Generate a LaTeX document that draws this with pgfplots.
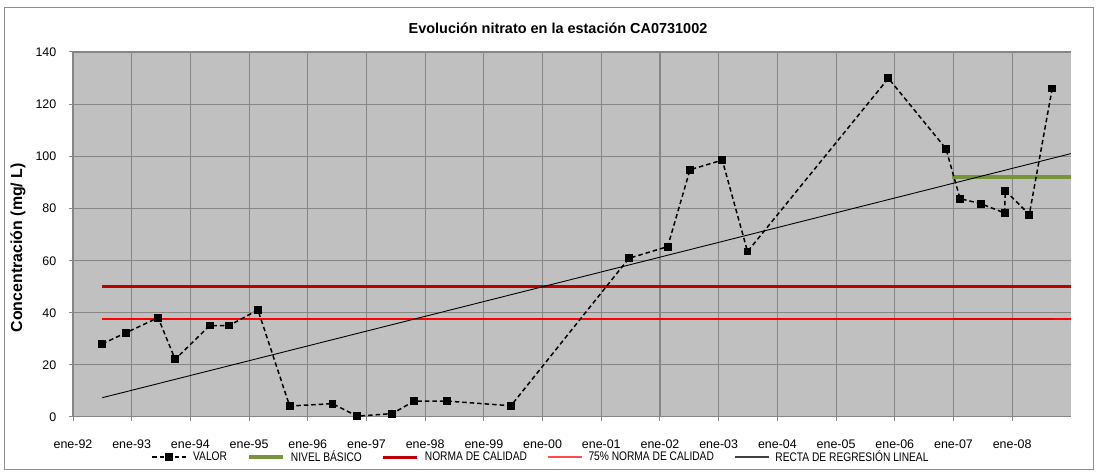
\documentclass[border=0pt]{standalone}
\usepackage{fontspec}
\setmainfont{Liberation Sans}
\newfontfamily\narrowfont[FakeStretch=0.82]{Liberation Sans}
\usepackage{pgfplots}
\pgfplotsset{compat=1.18}
\definecolor{plotbg}{RGB}{192,192,192}
\definecolor{gridc}{RGB}{134,134,134}
\definecolor{normared}{RGB}{192,0,0}
\definecolor{basicgreen}{RGB}{119,147,60}
\begin{document}
\begin{tikzpicture}[x=1bp,y=1bp]
\begin{axis}[
  at={(0,0)}, anchor=south west,
  scale only axis,
  width=998bp, height=364.7bp,
  xmin=1992, xmax=2009, ymin=0, ymax=140,
  axis background/.style={fill=plotbg},
  axis x line*=bottom, axis y line*=left,
  axis line style={gridc, line width=1.3bp},
  xtick={1992,...,2008},
  xticklabels={ene-92,ene-93,ene-94,ene-95,ene-96,ene-97,ene-98,ene-99,ene-00,ene-01,ene-02,ene-03,ene-04,ene-05,ene-06,ene-07,ene-08},
  minor x tick num=1,
  ytick={0,20,...,140},
  grid=both,
  major grid style={gridc, line width=1.1bp},
  minor grid style={gridc, line width=1.1bp},
  tick align=outside,
  major tick length=4.5bp, minor tick length=0pt,
  tick style={gridc, line width=1bp},
  x axis line style={-}, y axis line style={-},
  ticklabel style={font=\fontsize{12.5}{15}\selectfont},
  xticklabel style={anchor=base, inner sep=0pt, yshift=-27.3bp},
  yticklabel style={anchor=base east, inner sep=0pt, xshift=-12bp, yshift=-4.7bp},
  /pgf/number format/assume math mode=true,
  clip=true,
  legend columns=5,
  legend style={at={(axis description cs:0.469,-0.1105)}, anchor=center,
    draw=none, fill=none, inner sep=0pt,
    font=\narrowfont\fontsize{12.5}{14}\selectfont,
    /tikz/every odd column/.append style={column sep=4bp},
    /tikz/every even column/.append style={column sep=18bp}},
  legend image code/.code={\draw[mark repeat=2,mark phase=2,#1] plot coordinates {(0bp,0bp) (17bp,0bp) (34bp,0bp)};},
]
% legend entries
\addlegendimage{black, line width=1.5bp, dash pattern=on 4.5bp off 3bp, mark=square*, mark size=3.2bp, mark options={solid}}
\addlegendentry{VALOR}
\addlegendimage{basicgreen, line width=4bp}
\addlegendentry{NIVEL BÁSICO}
\addlegendimage{normared, line width=3bp}
\addlegendentry{NORMA DE CALIDAD}
\addlegendimage{red!70, line width=1.5bp}
\addlegendentry{75\% NORMA DE CALIDAD}
\addlegendimage{black!75, line width=1.5bp}
\addlegendentry{RECTA DE REGRESIÓN LINEAL}

% norma de calidad
\addplot[forget plot, normared, line width=3bp] coordinates {(1992.5,50) (2009,50)};
\addplot[forget plot, red, line width=1.4bp] coordinates {(1992.5,37.5) (2009,37.5)};
\addplot[forget plot, normared, line width=3.6bp] coordinates {(2007,50) (2008.7,50)};
\addplot[forget plot, red!90!black, line width=2.2bp] coordinates {(2007,37.5) (2008.7,37.5)};
% nivel basico
\addplot[forget plot, basicgreen, line width=4bp] coordinates {(2006.98,92) (2009,92)};
% recta de regresion
\addplot[forget plot, black, line width=0.9bp] coordinates {(1992.5,7.3) (2009,101.0)};
% valores
\addplot[forget plot, black, line width=1.5bp, dash pattern=on 4.5bp off 3bp,
  mark=square*, mark size=3.2bp, mark options={solid}] coordinates {
  (1992.50,28.0) (1992.90,32.2) (1993.45,38.0) (1993.74,22.0)
  (1994.33,35.0) (1994.66,35.0) (1995.15,41.0) (1995.69,4.1)
  (1996.42,5.0) (1996.84,0.2) (1997.44,1.2) (1997.81,6.0)
  (1998.37,6.0) (1999.46,4.2) (2001.47,60.8) (2002.13,65.3)
  (2002.51,94.8) (2003.06,98.5) (2003.49,63.4) (2005.89,129.9)
  (2006.87,102.9) (2007.11,83.7) (2007.46,81.8) (2007.87,78.2)
  (2007.88,86.8) (2008.29,77.6) (2008.68,126.0)
};
\end{axis}
\node[font=\bfseries\fontsize{14.5}{17}\selectfont] at (485bp,388bp) {Evolución nitrato en la estación CA0731002};
\node[font=\bfseries\fontsize{16}{19}\selectfont, rotate=90] at (-55bp,169bp) {Concentración (mg/ L)};
\draw[black!45, line width=1bp] (-68bp,-52.3bp) rectangle (1020bp,408.7bp);
\pgfresetboundingbox
\path[use as bounding box] (-73bp,-56.3bp) rectangle (1025bp,416.7bp);
\end{tikzpicture}
\end{document}
